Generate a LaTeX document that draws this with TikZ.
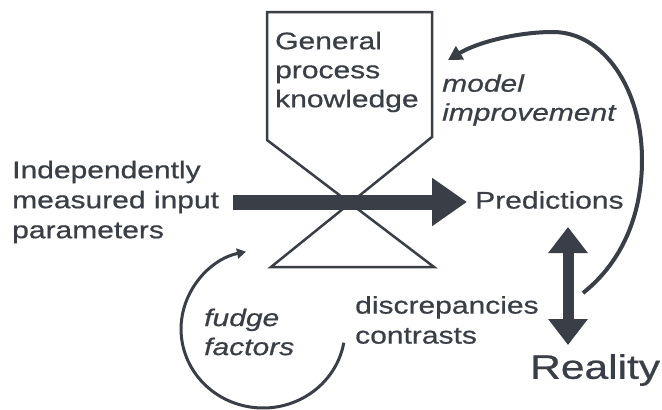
\documentclass[tikz,border=0pt]{standalone}
\usepackage{fontspec}
\setmainfont{Liberation Sans}[FakeStretch=1.25,FakeBold=0.6]
\usetikzlibrary{arrows.meta}
\definecolor{ink}{RGB}{58,62,70}
\begin{document}
\begin{tikzpicture}[x=1pt,y=-1pt,
  lbl/.style={anchor=west,inner sep=0pt,align=left,text=ink,font=\fontsize{24}{30}\selectfont},
  ilbl/.style={anchor=west,inner sep=0pt,align=left,text=ink,font=\fontsize{24}{29}\selectfont\itshape},
  glass/.style={draw=ink,line width=2.5pt,line join=miter},
  bigarrow/.style={draw=ink,line width=15pt,-{Triangle[width=46pt,length=35pt]}},
  dblarrow/.style={draw=ink,line width=11pt,{Triangle[width=38pt,length=26pt]}-{Triangle[width=38pt,length=26pt]}},
  loopbig/.style={draw=ink,line width=4pt,-{Triangle[width=15pt,length=14pt]}},
  loopsmall/.style={draw=ink,line width=3pt,-{Triangle[width=10pt,length=9pt]}}]
\useasboundingbox (0,0) rectangle (662,410);
\fill[white] (0,0) rectangle (662,410);

% hourglass
\coordinate (g1) at (267,12);
\coordinate (g2) at (432,12);
\coordinate (g3) at (432,137);
\coordinate (g4) at (271,267);
\coordinate (g5) at (434,267);
\coordinate (g6) at (267,140);
\draw[glass] (g1) -- (g2) -- (g3) -- (g4) -- (g5) -- (g6) -- cycle;

% texts
\node[lbl] (gpk) at (275,72) {General\\[-1pt]process\\[-1pt]knowledge};
\node[lbl] (inp) at (12,202) {Independently\\measured input\\parameters};
\node[lbl] (pred) at (475,200) {Predictions};
\node[ilbl] (model) at (442,100) {model\\improvement};
\node[lbl] (disc) at (355,320) {discrepancies\\contrasts};
\node[ilbl] (fudge) at (204,332) {fudge\\factors};
\node[anchor=west,inner sep=0pt,text=ink,font=\fontsize{34}{36}\selectfont] (real) at (530,370) {Reality};

% big arrow
\coordinate (as) at (233,202);
\coordinate (ae) at (467,202);
\draw[bigarrow] (as) -- (ae);

% double arrow
\coordinate (dt) at (568,227);
\coordinate (db) at (568,345);
\draw[dblarrow] (dt) -- (db);

% model improvement loop
\coordinate (m0) at (583,293);
\coordinate (m1) at (642,160);
\coordinate (m2) at (553,32);
\coordinate (m3) at (448,60);
\draw[loopbig] (m0) .. controls (622,262) and (642,215) .. (m1)
  .. controls (642,88) and (603,32) .. (m2)
  .. controls (518,32) and (478,42) .. (m3);

% fudge loop
\coordinate (f0) at (343.8,342.7);
\draw[loopsmall] (f0) arc[start angle=10,end angle=258,x radius=82,y radius=79];
\end{tikzpicture}
\end{document}
